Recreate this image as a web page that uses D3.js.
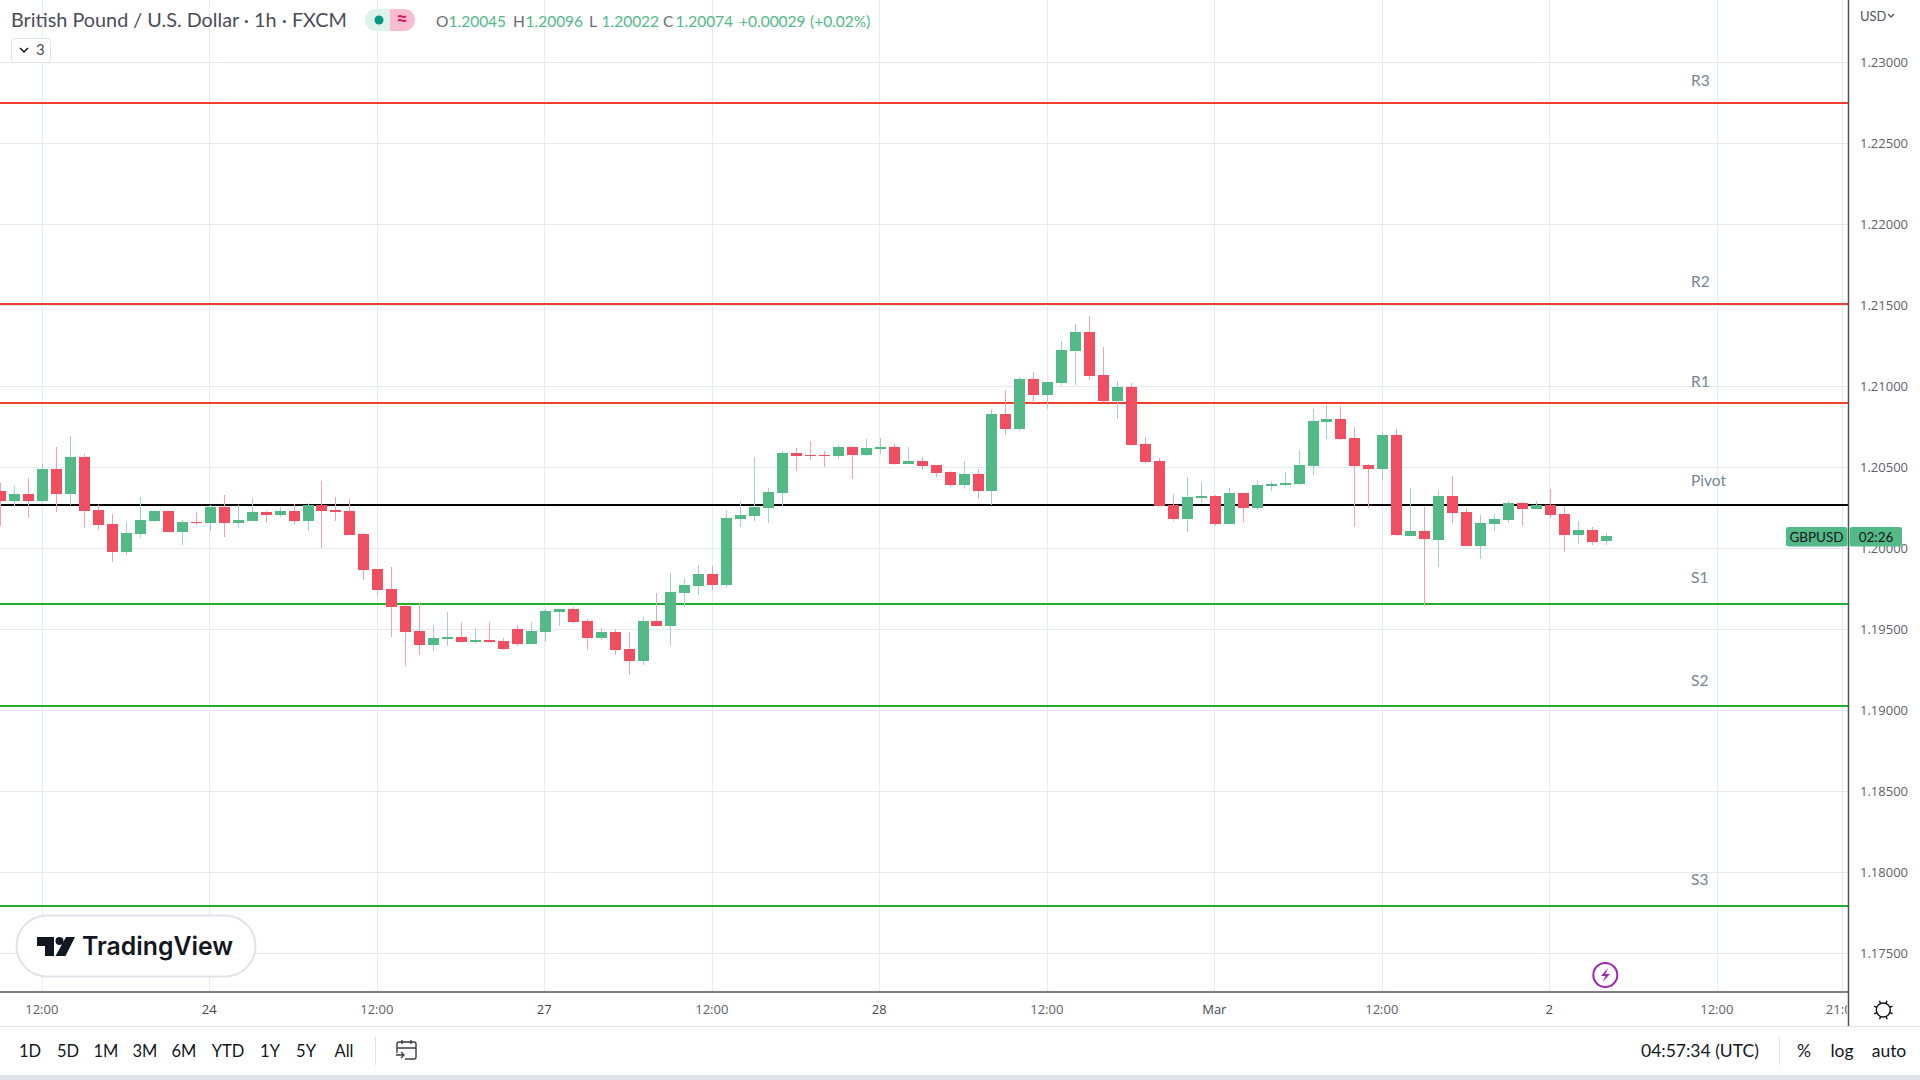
<!DOCTYPE html>
<html>
<head>
<meta charset="utf-8">
<script src="https://d3js.org/d3.v7.min.js"></script>
<style>
  body { margin: 0; background: #fff; overflow: hidden; }
  svg { display: block; font-family: Lato, "Open Sans", sans-serif; }
  .axis text { font-family: "Open Sans", sans-serif; font-size: 13px; fill: #5d606b; }
  .axis path, .axis line { display: none; }
  .btn { font-size: 16.5px; fill: #131722; text-anchor: middle; }
</style>
</head>
<body>
<svg id="chart" width="1920" height="1080"></svg>
<script>
// hourly candles
var opens = [1.20354,1.20292,1.20335,1.20292,1.20490,1.20335,1.20564,1.20237,1.20150,1.19977,1.20088,1.20169,1.20230,1.20101,1.20163,1.20156,1.20255,1.20156,1.20169,1.20224,1.20206,1.20230,1.20169,1.20268,1.20237,1.20230,1.20088,1.19872,1.19749,
  1.19644,1.19490,1.19403,1.19440,1.19453,1.19422,1.19434,1.19428,1.19502,1.19409,1.19483,1.19607,1.19625,1.19551,1.19446,1.19483,1.19378,1.19304,1.19551,1.19520,1.19724,1.19767,1.19842,1.19774,1.20181,1.20200,1.20249,
  1.20342,1.20589,1.20576,1.20576,1.20570,1.20626,1.20576,1.20613,1.20626,1.20521,1.20539,1.20515,1.20471,1.20391,1.20459,1.20354,1.20829,1.20737,1.21045,1.20947,1.21021,1.21218,1.21336,1.21070,1.20910,1.20996,1.20644,
  1.20539,1.20268,1.20181,1.20311,1.20323,1.20150,1.20342,1.20249,1.20385,1.20391,1.20397,1.20508,1.20780,1.20798,1.20681,1.20515,1.20490,1.20700,1.20076,1.20107,1.20051,1.20323,1.20224,1.20014,1.20150,1.20175,1.20280,1.20243,1.20268,1.20212,1.20082,1.20113,1.20045];
var highs = [1.20405,1.20385,1.20434,1.20521,1.20626,1.20694,1.20582,1.20268,1.20212,1.20163,1.20317,1.20237,1.20230,1.20175,1.20224,1.20268,1.20329,1.20268,1.20311,1.20230,1.20255,1.20274,1.20280,1.20416,1.20317,1.20305,1.20095,1.19872,1.19885,
  1.19650,1.19662,1.19527,1.19607,1.19545,1.19508,1.19545,1.19446,1.19527,1.19545,1.19625,1.19625,1.19638,1.19564,1.19508,1.19502,1.19483,1.19576,1.19724,1.19848,1.19817,1.19897,1.19891,1.20237,1.20292,1.20564,1.20372,
  1.20601,1.20619,1.20663,1.20601,1.20638,1.20626,1.20675,1.20681,1.20644,1.20626,1.20564,1.20515,1.20477,1.20539,1.20490,1.20860,1.20978,1.21058,1.21089,1.21027,1.21280,1.21385,1.21434,1.21243,1.21033,1.21021,1.20687,
  1.20558,1.20335,1.20440,1.20410,1.20329,1.20372,1.20342,1.20422,1.20416,1.20471,1.20607,1.20860,1.20885,1.20879,1.20749,1.20521,1.20718,1.20737,1.20372,1.20255,1.20360,1.20447,1.20249,1.20206,1.20212,1.20292,1.20286,1.20292,1.20366,1.20255,1.20169,1.20132,1.20096];
var lows = [1.20138,1.20257,1.20187,1.20278,1.20224,1.20268,1.20126,1.20113,1.19916,1.19959,1.20064,1.20163,1.20101,1.20021,1.20144,1.20107,1.20070,1.20126,1.20169,1.20156,1.20193,1.20150,1.20107,1.20002,1.20169,1.20082,1.19804,1.19706,1.19453,
  1.19274,1.19341,1.19366,1.19397,1.19422,1.19409,1.19422,1.19372,1.19397,1.19409,1.19422,1.19520,1.19539,1.19372,1.19434,1.19341,1.19218,1.19280,1.19520,1.19397,1.19638,1.19712,1.19743,1.19755,1.20132,1.20169,1.20156,
  1.20261,1.20477,1.20545,1.20502,1.20552,1.20428,1.20570,1.20582,1.20515,1.20521,1.20484,1.20440,1.20379,1.20372,1.20305,1.20268,1.20700,1.20724,1.20897,1.20860,1.21008,1.21008,1.21039,1.20903,1.20798,1.20638,1.20527,
  1.20261,1.20169,1.20101,1.20280,1.20138,1.20150,1.20163,1.20237,1.20354,1.20385,1.20391,1.20453,1.20675,1.20669,1.20132,1.20249,1.20422,1.20076,1.20076,1.19644,1.19885,1.20156,1.20014,1.19934,1.20107,1.20156,1.20138,1.20243,1.20187,1.19977,1.20027,1.20021,1.20022];
var closes = [1.20292,1.20335,1.20292,1.20490,1.20335,1.20564,1.20230,1.20144,1.19977,1.20095,1.20175,1.20230,1.20101,1.20163,1.20156,1.20255,1.20156,1.20175,1.20224,1.20206,1.20230,1.20169,1.20268,1.20230,1.20224,1.20082,1.19866,1.19743,1.19638,
  1.19483,1.19403,1.19446,1.19453,1.19422,1.19434,1.19422,1.19378,1.19409,1.19490,1.19613,1.19625,1.19545,1.19446,1.19483,1.19372,1.19304,1.19551,1.19520,1.19730,1.19774,1.19842,1.19774,1.20187,1.20206,1.20255,1.20348,
  1.20589,1.20570,1.20570,1.20570,1.20626,1.20576,1.20619,1.20626,1.20521,1.20539,1.20508,1.20465,1.20391,1.20459,1.20354,1.20829,1.20737,1.21045,1.20947,1.21027,1.21225,1.21336,1.21064,1.20910,1.20996,1.20638,1.20533,
  1.20261,1.20181,1.20317,1.20323,1.20150,1.20342,1.20249,1.20391,1.20397,1.20403,1.20515,1.20786,1.20798,1.20675,1.20508,1.20490,1.20700,1.20082,1.20107,1.20058,1.20323,1.20218,1.20014,1.20156,1.20181,1.20280,1.20243,1.20268,1.20206,1.20082,1.20113,1.20039,1.20074];

var priceTicks = [1.23,1.225,1.22,1.215,1.21,1.205,1.2,1.195,1.19,1.185,1.18,1.175];
var timeTicks = [3,15,27,39,51,63,75,87,99,111,123,132];
var timeLabels = ["12:00","24","12:00","27","12:00","28","12:00","Mar","12:00","2","12:00","21:00"];
var pivotNames = ["R3","R2","R1","Pivot","S1","S2","S3"];
var pivotValues = [1.22749,1.21508,1.20897,1.20268,1.19658,1.19028,1.17794];
var rangeButtons = ["1D","5D","1M","3M","6M","YTD","1Y","5Y","All"];
var legendLabels = ["O","H","L","C"];
var legendValues = ["1.20045","1.20096","1.20022","1.20074"];
var lastClose = 1.20074;

var paneW = 1848, paneH = 992;
var green = "#53b987", red = "#ef4f60";

var svg = d3.select("#chart");
var x = d3.scaleLinear().domain([3,123]).range([42.3,1717.3]);
var y = d3.scaleLinear().domain([1.2,1.23]).range([548.3,62.3]);
var idx = d3.range(opens.length);

svg.append("clipPath").attr("id","pane").append("rect").attr("width",paneW).attr("height",1080);

// grid
var grid = svg.append("g").attr("shape-rendering","crispEdges");
grid.selectAll(".v").data(timeTicks).join("line").attr("class","v")
  .attr("x1",d=>x(d)).attr("x2",d=>x(d)).attr("y1",0).attr("y2",paneH)
  .attr("stroke","#e1ecf3");
grid.selectAll(".h").data(priceTicks).join("line").attr("class","h")
  .attr("x1",0).attr("x2",paneW).attr("y1",d=>y(d)).attr("y2",d=>y(d))
  .attr("stroke","#e3e9f0");

// pivot levels
var labelGap = [17,17,16,19,21,20,21];
svg.selectAll(".pivot").data(pivotValues).join("line").attr("class","pivot")
  .attr("x1",0).attr("x2",paneW)
  .attr("y1",d=>Math.round(y(d))).attr("y2",d=>Math.round(y(d)))
  .attr("stroke-width",2).attr("shape-rendering","crispEdges")
  .attr("stroke",(d,i)=>pivotNames[i][0]=="R" ? "#f23d30" : pivotNames[i][0]=="S" ? "#1fae2e" : "#000");
svg.selectAll(".pivotLabel").data(pivotValues).join("text").attr("class","pivotLabel")
  .attr("x",1691).attr("y",(d,i)=>y(d)-labelGap[i]).attr("font-size",15.5).attr("fill","#758696")
  .text((d,i)=>pivotNames[i]);

// candles
var candles = svg.append("g").attr("shape-rendering","crispEdges");
candles.selectAll(".wick").data(idx).join("line").attr("class","wick")
  .attr("x1",i=>Math.round(x(i))+.5).attr("x2",i=>Math.round(x(i))+.5)
  .attr("y1",i=>y(highs[i])).attr("y2",i=>y(lows[i]))
  .attr("stroke",i=>closes[i]>=opens[i] ? "#a6d0d0" : "#f7a2ae");
candles.selectAll(".body").data(idx).join("rect").attr("class","body")
  .attr("x",i=>Math.round(x(i))-5).attr("width",11)
  .attr("y",i=>Math.round(y(Math.max(opens[i],closes[i]))))
  .attr("height",i=>Math.max(1,Math.abs(y(opens[i])-y(closes[i]))))
  .attr("fill",i=>closes[i]>=opens[i] ? green : red);

// axes
svg.append("g").attr("class","axis").attr("transform","translate("+paneW+",0)")
  .call(d3.axisRight(y).tickValues(priceTicks).tickFormat(d3.format(".5f")).tickSize(0).tickPadding(12));
var timeAxis = svg.append("g").attr("class","axis").attr("clip-path","url(#pane)").attr("transform","translate(-1,"+paneH+")")
  .call(d3.axisBottom(x).tickValues(timeTicks).tickFormat((d,i)=>timeLabels[i]).tickSize(0).tickPadding(13));
timeAxis.selectAll("text").filter(d=>timeLabels[timeTicks.indexOf(d)]!="12:00" && d!=132).style("fill","#434651");
svg.selectAll(".axis path").remove();

svg.append("line").attr("x1",0).attr("x2",paneW).attr("y1",paneH).attr("y2",paneH).attr("stroke","#50535e").attr("stroke-width",1.5);
svg.append("line").attr("x1",paneW+.5).attr("x2",paneW+.5).attr("y1",0).attr("y2",1026).attr("stroke","#50535e").attr("stroke-width",1.5);
svg.append("line").attr("x1",0).attr("x2",1920).attr("y1",1026.5).attr("y2",1026.5).attr("stroke","#e0e3eb");
svg.append("rect").attr("y",1075).attr("width",1920).attr("height",5).attr("fill","#e0e3eb");

// legend
svg.append("text").attr("x",11).attr("y",27).attr("font-size",19).attr("textLength",336).attr("lengthAdjust","spacingAndGlyphs").attr("fill","#4a4d57")
  .text("British Pound / U.S. Dollar · 1h · FXCM");
svg.append("path").attr("d","M376 9 h14 v22 h-14 a11 11 0 0 1 0 -22z").attr("fill","#def2ee");
svg.append("path").attr("d","M390 9 h14 a11 11 0 0 1 0 22 h-14z").attr("fill","#f9bcd0");
svg.append("circle").attr("cx",379).attr("cy",20).attr("r",4.5).attr("fill","#089981");
svg.append("text").attr("x",402).attr("y",26).attr("text-anchor","middle").attr("font-size",20).attr("font-weight",700).attr("fill","#d81b60").text("≈");

var legendX = [436,513,589,663];
var legend = svg.append("g").attr("font-size",15.5);
legend.selectAll(".lab").data(legendLabels).join("text").attr("class","lab")
  .attr("x",(d,i)=>legendX[i]).attr("y",27).attr("fill","#6a6d78").text(d=>d);
legend.selectAll(".val").data(legendValues).join("text").attr("class","val")
  .attr("x",(d,i)=>legendX[i]+12.5).attr("y",27).attr("fill",green).text(d=>d);
legend.append("text").attr("x",739).attr("y",27).attr("fill",green).text("+0.00029");
legend.append("text").attr("x",810).attr("y",27).attr("fill",green).text("(+0.02%)");

svg.append("rect").attr("x",11.5).attr("y",38.5).attr("width",39).attr("height",24).attr("rx",3).attr("fill","#fff").attr("stroke","#e0e3eb");
svg.append("path").attr("d","M20 48 l4 4 l4 -4").attr("fill","none").attr("stroke","#131722").attr("stroke-width",1.5);
svg.append("text").attr("x",36).attr("y",55).attr("font-size",15).attr("fill","#4a4d57").text("3");

// right side bits
svg.append("text").attr("x",1860).attr("y",21).attr("font-size",13).attr("fill","#50535e").text("USD");
svg.append("path").attr("d","M1888 14 l3 3 l3 -3").attr("fill","none").attr("stroke","#50535e").attr("stroke-width",1.3);

var tagY = Math.round(y(lastClose))+1;
svg.append("rect").attr("x",1786).attr("y",tagY-10).attr("width",61.5).attr("height",19.5).attr("rx",2.5).attr("fill",green);
svg.append("rect").attr("x",1849.5).attr("y",tagY-10).attr("width",52.5).attr("height",19.5).attr("rx",2.5).attr("fill",green);
svg.append("text").attr("x",1816.5).attr("y",tagY+5).attr("text-anchor","middle").attr("font-size",13.5).attr("fill","#131722").text("GBPUSD");
svg.append("text").attr("x",1876).attr("y",tagY+5).attr("text-anchor","middle").attr("font-size",13.5).attr("fill","#131722").text("02:26");

// lightning mark
svg.append("circle").attr("cx",1605.3).attr("cy",975).attr("r",12).attr("fill","#fff").attr("stroke","#9c27b0").attr("stroke-width",2);
svg.append("path").attr("d","M1608 968 l-7 8 h4.5 l-3 6 l7.5 -8 h-4.5z").attr("fill","#9c27b0");

// gear
var gear = svg.append("g").attr("transform","translate(1883.3,1010)").attr("fill","none").attr("stroke","#131722").attr("stroke-width",1.4);
gear.append("circle").attr("r",7);
d3.range(8).forEach(function(k){
  gear.append("line").attr("x1",7).attr("x2",10).attr("transform","rotate("+(k*45+22)+")");
});

// TradingView badge
svg.append("rect").attr("x",16.5).attr("y",915.5).attr("width",239).attr("height",61).attr("rx",30.5).attr("fill","#fff").attr("stroke","#e0e3eb").attr("stroke-width",2);
svg.append("path").attr("d","M37 937 h17 v19 h-9 v-10 h-8z M66 937 h9 l-9.5 19 h-10z").attr("fill","#131722");
svg.append("circle").attr("cx",59.5).attr("cy",941).attr("r",4).attr("fill","#131722");
svg.append("text").attr("x",82).attr("y",955).attr("font-family","Inter").attr("font-size",25).attr("font-weight",600)
  .attr("textLength",151).attr("lengthAdjust","spacingAndGlyphs").attr("fill","#131722").text("TradingView");

// bottom toolbar
var buttonX = [30,68,106,145,184,228,270,306,344];
svg.selectAll(".btn").data(rangeButtons).join("text").attr("class","btn")
  .attr("x",(d,i)=>buttonX[i]).attr("y",1057).text(d=>d);
[375,1779].forEach(function(sx){
  svg.append("line").attr("x1",sx+.5).attr("x2",sx+.5).attr("y1",1037).attr("y2",1065).attr("stroke","#e0e3eb");
});
svg.append("path").attr("d","M397 1053 v-9 a2 2 0 0 1 2 -2 h15 a2 2 0 0 1 2 2 v13 a2 2 0 0 1 -2 2 h-9 M397 1048 h19 M402 1040 v4 M411 1040 v4 M396 1055 h8 M401 1052 l3 3 l-3 3")
  .attr("fill","none").attr("stroke","#3a3d48").attr("stroke-width",1.4);
svg.append("text").attr("x",1641).attr("y",1057).attr("font-size",17.5).attr("fill","#131722").text("04:57:34 (UTC)");
svg.append("text").attr("x",1804).attr("y",1057).attr("text-anchor","middle").attr("font-size",17.5).attr("fill","#131722").text("%");
svg.append("text").attr("x",1842).attr("y",1057).attr("text-anchor","middle").attr("font-size",17.5).attr("fill","#131722").text("log");
svg.append("text").attr("x",1889).attr("y",1057).attr("text-anchor","middle").attr("font-size",17.5).attr("fill","#131722").text("auto");
</script>
</body>
</html>
